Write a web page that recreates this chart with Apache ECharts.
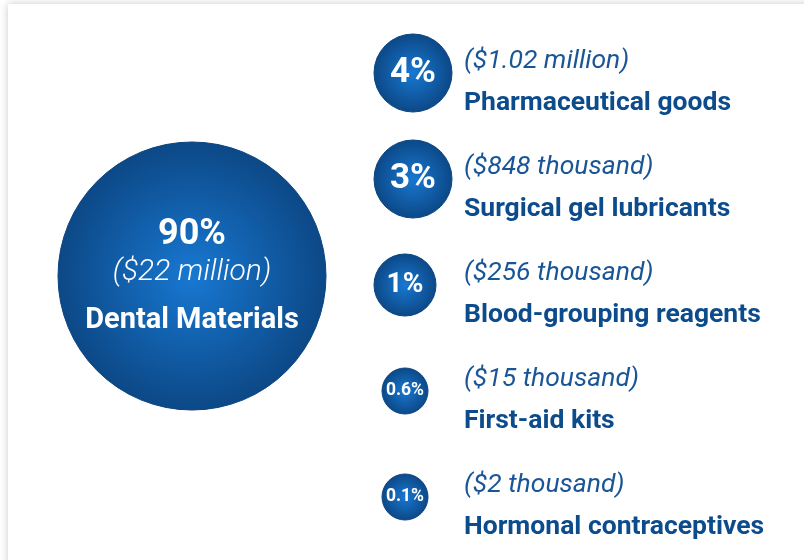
<!DOCTYPE html>
<html>
<head>
<meta charset="utf-8">
<style>
  html, body { margin: 0; padding: 0; background: #fff; }
  #main { width: 804px; height: 560px; }
</style>
<script src="https://cdn.jsdelivr.net/npm/echarts@6/dist/echarts.min.js"></script>
</head>
<body>
<div id="main"></div>
<script>
// data
var mainCategory = 'Dental Materials'
var mainShare = 90
var mainAmount = '($22 million)'

var categories = ['Pharmaceutical goods', 'Surgical gel lubricants', 'Blood-grouping reagents', 'First-aid kits', 'Hormonal contraceptives']
var shares = [4, 3, 1, 0.6, 0.1]
var amounts = ['($1.02 million)', '($848 thousand)', '($256 thousand)', '($15 thousand)', '($2 thousand)']

var textBlue = '#0d4c8c'
var italicBlue = '#1a5696'

// bubble fill
var bubbleFill = {
  type: 'radial', x: 0.5, y: 0.5, r: 0.5,
  colorStops: [
    { offset: 0, color: '#1878d2' },
    { offset: 1, color: '#0c4886' }
  ]
}

// size buckets, not proportional (like the original)
function bubbleSize(v) {
  if (v >= 50) return 268
  if (v >= 2) return 78
  if (v >= 1) return 62
  return 46
}
function pctFont(size) {
  if (size >= 78) return 35
  if (size >= 62) return 28
  return 17.5
}

var bubbleData = [], textData = []
for (var i = 0; i < categories.length; i++) {
  var s = bubbleSize(shares[i])
  bubbleData.push({
    value: [0, i, shares[i]],
    symbolSize: s,
    symbolOffset: [Math.max(0, s / 2 - 31), 0],
    label: { fontSize: pctFont(s) }
  })
  textData.push({ value: [0, i] })
}

var hiddenCat = function (data, idx, inverse) {
  return { type: 'category', data: data, gridIndex: idx, inverse: !!inverse, show: false, boundaryGap: true }
}

var myChart = echarts.init(document.getElementById('main'))
myChart.setOption({
  backgroundColor: '#ffffff',
  animation: false,
  textStyle: { fontFamily: 'Roboto' },
  graphic: [{
    type: 'rect', z: -10,
    shape: { x: 8, y: 4, width: 860, height: 620 },
    style: { fill: '#fff', shadowBlur: 8, shadowColor: 'rgba(0,0,0,0.22)' }
  }],
  grid: [
    { left: 58, top: 142, width: 268, height: 268 },
    { left: 375, top: 20, width: 60, height: 530 }
  ],
  xAxis: [hiddenCat(['x'], 0), hiddenCat(['x'], 1)],
  yAxis: [hiddenCat([mainCategory], 0), hiddenCat(categories, 1, true)],
  series: [
    {
      type: 'scatter', xAxisIndex: 0, yAxisIndex: 0,
      data: [{ value: [0, 0, mainShare] }],
      symbolSize: function (v) { return bubbleSize(v[2]) },
      itemStyle: { color: bubbleFill, borderColor: '#0b4480', borderWidth: 1, opacity: 1 },
      label: {
        show: true, position: 'inside', offset: [0, 8],
        formatter: function () {
          return '{p|' + mainShare + '%}\n{a|' + mainAmount + '}\n{b|' + mainCategory + '}'
        },
        rich: {
          p: { fontFamily: 'Roboto', fontWeight: 'bold', fontSize: 36, color: '#fff', lineHeight: 40 },
          a: { fontFamily: 'Roboto', fontStyle: 'italic', fontWeight: 300, fontSize: 30, color: '#fff', lineHeight: 34 },
          b: { fontFamily: 'Roboto', fontWeight: 'bold', fontSize: 29, color: '#fff', lineHeight: 64 }
        }
      }
    },
    {
      type: 'scatter', xAxisIndex: 1, yAxisIndex: 1,
      data: bubbleData,
      itemStyle: { color: bubbleFill, borderColor: '#0b4480', borderWidth: 1, opacity: 1 },
      label: {
        show: true, position: 'inside',
        fontFamily: 'Roboto', fontWeight: 'bold', color: '#fff',
        formatter: function (p) { return shares[p.dataIndex] + '%' }
      }
    },
    {
      type: 'scatter', xAxisIndex: 1, yAxisIndex: 1,
      data: textData,
      symbolSize: 0,
      itemStyle: { opacity: 1 },
      label: {
        show: true, position: 'right', distance: 59, offset: [0, 9],
        align: 'left', verticalAlign: 'middle',
        formatter: function (p) {
          return '{a|' + amounts[p.dataIndex] + '}\n{b|' + categories[p.dataIndex] + '}'
        },
        rich: {
          a: { fontFamily: 'Roboto', fontStyle: 'italic', fontSize: 26.5, color: italicBlue, lineHeight: 42 },
          b: { fontFamily: 'Roboto', fontWeight: 'bold', fontSize: 26.5, color: textBlue, lineHeight: 42 }
        }
      }
    }
  ]
})
</script>
</body>
</html>
